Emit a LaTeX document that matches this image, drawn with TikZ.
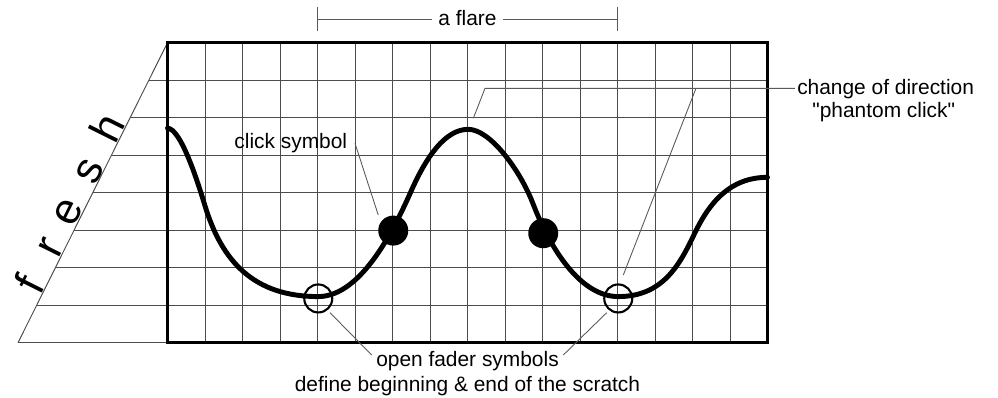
\documentclass[tikz,border=0pt]{standalone}
\usepackage{fontspec}
\setmainfont{Liberation Sans}[Ligatures=TeXOff]
\begin{document}
\begin{tikzpicture}[x=0.75cm,y=0.75cm,
  gridline/.style={line width=0.55pt, black!70},
  frame/.style={line width=2pt, black},
  wave/.style={line width=2.8pt, black, line cap=round, line join=round},
  leader/.style={line width=0.5pt, black!65},
  lbl/.style={font=\fontsize{11.9}{14}\selectfont, inner sep=0pt},
  clickdot/.style={circle, fill=black, minimum size=0.6cm, inner sep=0pt},
  fader/.style={circle, draw=black, line width=1.2pt, minimum size=0.56cm, inner sep=0pt},
  bigletter/.style={font=\fontsize{25}{30}\selectfont, rotate=63.5, inner sep=0pt, anchor=base}]
\useasboundingbox (-4.467,-1.448) rectangle (22.147,9.139);
% grid
\foreach \i in {1,...,15} \draw[gridline] (\i,0) -- (\i,8);
\foreach \j in {1,...,7} \draw[gridline] ({0.4984*\j-3.987},\j) -- (16,\j);
\coordinate (slantbot) at (-3.987,0);
\coordinate (slanttop) at (0,8);
\draw[gridline] (slantbot) -- (0,0);
\draw[gridline] (slantbot) -- (slanttop);
\draw[frame] (0,0) rectangle (16,8);
% fresh
\node[bigletter] (lf) at (-3.32,1.37) {f};
\node[bigletter] (lr) at (-2.81,2.40) {r};
\node[bigletter] (le) at (-2.35,3.33) {e};
\node[bigletter] (ls) at (-1.80,4.43) {s};
\node[bigletter] (lh) at (-1.235,5.56) {h};
% wave
\draw[wave] (0,5.72)
  .. controls (0.35,5.72) and (0.8,4.31) .. (1.0,3.65)
  .. controls (1.45,2.17) and (2.3,1.23) .. (4.02,1.23)
  .. controls (5.2,1.23) and (6.1,3.15) .. (6.5,4.05)
  .. controls (6.9,4.95) and (7.4,5.69) .. (8.02,5.69)
  .. controls (8.6,5.69) and (9.4,4.61) .. (9.75,3.7)
  .. controls (10.2,2.53) and (11.0,1.23) .. (12.02,1.23)
  .. controls (13.2,1.23) and (13.65,2.06) .. (14.05,2.9)
  .. controls (14.45,3.74) and (15.0,4.41) .. (16,4.41);
% symbols
\node[clickdot] (c1) at (6.02,2.99) {};
\node[clickdot] (c2) at (10.02,2.92) {};
\node[fader] (f1) at (4.02,1.18) {};
\node[fader] (f2) at (12.02,1.18) {};
% a flare
\node[lbl, anchor=base] (flare) at (8,8.472) {a flare};
\coordinate (flL) at (4,8.632);
\coordinate (flR) at (12,8.632);
\coordinate (flLt) at (4,8.952);
\coordinate (flLb) at (4,8.312);
\coordinate (flRt) at (12,8.952);
\coordinate (flRb) at (12,8.312);
\coordinate (flA) at (7.045,8.632);
\coordinate (flB) at (8.955,8.632);
\draw[leader] (flL) -- (flA);
\draw[leader] (flB) -- (flR);
\draw[leader] (flLt) -- (flLb);
\draw[leader] (flRt) -- (flRb);
% click symbol
\node[lbl, anchor=base] (clk) at (3.288,5.184) {click symbol};
\coordinate (clkA) at (5.0,5.316);
\coordinate (clkB) at (5.62,3.405);
\draw[leader] (clkA) -- (clkB);
% change of direction
\node[lbl, anchor=base] (chg1) at (19.15,6.624) {change of direction};
\node[lbl, anchor=base] (chg2) at (19.1,6.011) {"phantom click"};
\coordinate (chA) at (8.155,5.984);
\coordinate (chB) at (8.467,6.784);
\coordinate (chC) at (16.733,6.784);
\coordinate (chD) at (14.093,6.784);
\coordinate (chE) at (12.155,1.805);
\draw[leader] (chA) -- (chB) -- (chC);
\draw[leader] (chD) -- (chE);
% open fader
\node[lbl, anchor=base] (of1) at (8,-0.64) {open fader symbols};
\node[lbl, anchor=base] (of2) at (8,-1.307) {define beginning \& end of the scratch};
\coordinate (ofA) at (4.333,0.8);
\coordinate (ofB) at (5.445,-0.328);
\coordinate (ofC) at (11.712,0.8);
\coordinate (ofD) at (10.555,-0.328);
\draw[leader] (ofA) -- (ofB);
\draw[leader] (ofC) -- (ofD);
\end{tikzpicture}
\end{document}
